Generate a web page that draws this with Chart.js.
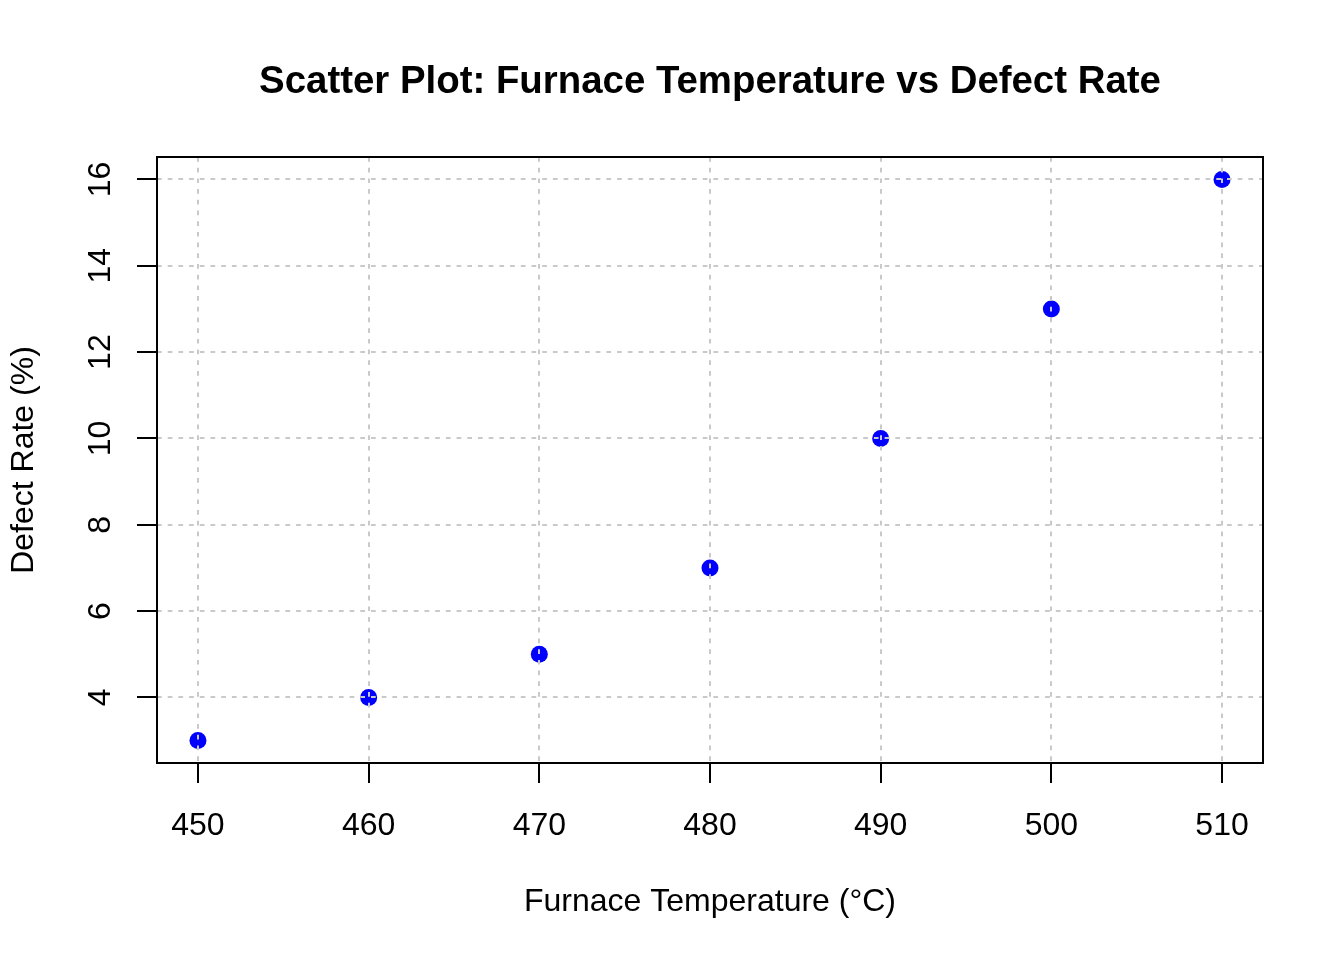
<!DOCTYPE html>
<html>
<head>
<meta charset="utf-8">
<style>
  html, body { margin: 0; padding: 0; background: #ffffff; }
  #wrap { width: 1344px; height: 960px; }
</style>
<script src="https://cdn.jsdelivr.net/npm/chart.js@4.4.1/dist/chart.umd.min.js"></script>
</head>
<body>
<div id="wrap"><canvas id="scatterChart" width="1344" height="960"></canvas></div>
<script>
// Data
const temperatures = [450, 460, 470, 480, 490, 500, 510];
const defectRates = [3, 4, 5, 7, 10, 13, 16];

const FONT = "'Liberation Sans', Arial, Helvetica, sans-serif";
const GRID_COLOR = "#c9c9c9";

// Draws the full box around the plot area (like R's box())
const plotBox = {
    id: "plotBox",
    afterDraw(chart) {
        const { ctx, chartArea } = chart;
        ctx.save();
        ctx.strokeStyle = "#000000";
        ctx.lineWidth = 2;
        ctx.strokeRect(chartArea.left, chartArea.top,
            chartArea.right - chartArea.left, chartArea.bottom - chartArea.top);
        ctx.restore();
    },
};

const ctx = document.getElementById("scatterChart").getContext("2d");
new Chart(ctx, {
    type: "scatter",
    data: {
        datasets: [
            {
                label: "Defect Rate",
                data: temperatures.map((t, i) => ({ x: t, y: defectRates[i] })),
                backgroundColor: "#0000ff",
                borderColor: "#0000ff",
                borderWidth: 0,
                pointRadius: 8.5,
                pointHoverRadius: 8.5,
            },
        ],
    },
    options: {
        responsive: false,
        animation: false,
        devicePixelRatio: 1,
        layout: {
            padding: { left: 0, right: 81, top: 0, bottom: 0 },
        },
        plugins: {
            legend: { display: false },
            tooltip: { enabled: false },
            title: {
                display: true,
                text: "Scatter Plot: Furnace Temperature vs Defect Rate",
                color: "#000000",
                fullSize: false,
                font: { family: FONT, size: 38.4, weight: "bold", lineHeight: 1 },
                padding: { top: 63.5, bottom: 55.1 },
            },
        },
        scales: {
            x: {
                type: "linear",
                position: "bottom",
                min: 447.6,
                max: 512.4,
                afterFit(scale) {
                    scale.height = 197;
                },
                ticks: {
                    stepSize: 10,
                    includeBounds: false,
                    autoSkip: false,
                    maxRotation: 0,
                    color: "#000000",
                    padding: 27,
                    font: { family: FONT, size: 32, lineHeight: 1 },
                },
                grid: {
                    color: GRID_COLOR,
                    lineWidth: 2,
                    z: 1,
                    tickLength: 20,
                    tickColor: "#000000",
                    tickWidth: 2,
                    tickBorderDash: [],
                },
                border: { display: false, dash: [4.7, 6] },
                title: {
                    display: true,
                    text: "Furnace Temperature (°C)",
                    color: "#000000",
                    font: { family: FONT, size: 32, lineHeight: 1 },
                    padding: { top: 0, bottom: 42 },
                },
            },
            y: {
                type: "linear",
                position: "left",
                min: 2.48,
                max: 16.52,
                afterFit(scale) {
                    scale.width = 157;
                },
                ticks: {
                    stepSize: 2,
                    includeBounds: false,
                    autoSkip: false,
                    minRotation: 90,
                    maxRotation: 90,
                    crossAlign: "center",
                    color: "#000000",
                    padding: 18.2,
                    font: { family: FONT, size: 32, lineHeight: 1 },
                },
                grid: {
                    color: GRID_COLOR,
                    lineWidth: 2,
                    z: 1,
                    tickLength: 20,
                    tickColor: "#000000",
                    tickWidth: 2,
                    tickBorderDash: [],
                },
                border: { display: false, dash: [4.7, 6] },
                title: {
                    display: true,
                    text: "Defect Rate (%)",
                    color: "#000000",
                    font: { family: FONT, size: 32, lineHeight: 1 },
                    padding: { top: 8.4, bottom: 0 },
                },
            },
        },
    },
    plugins: [plotBox],
});
</script>
</body>
</html>
